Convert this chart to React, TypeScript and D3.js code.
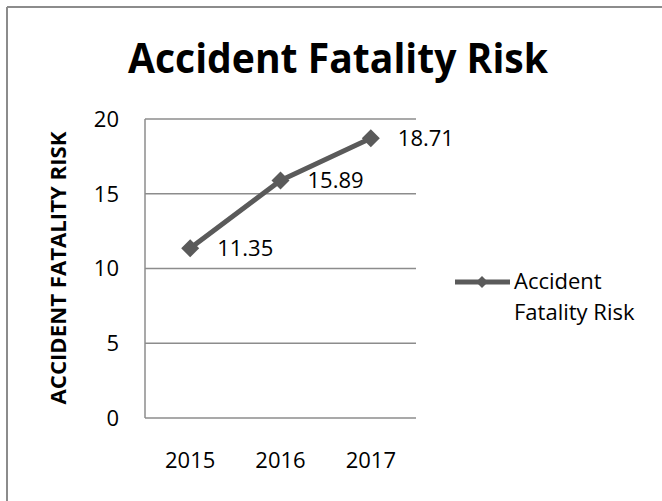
import React from 'react'
import * as d3 from 'd3'

const years = ['2015', '2016', '2017']
const risk = [11.35, 15.89, 18.71]
const yTicks = [0, 5, 10, 15, 20]
const seriesName = 'Accident Fatality Risk'

const W = 662
const H = 501
const FONT = "'Open Sans', 'Liberation Sans', sans-serif"
const LINE = '#5a5a5a'
const GRID = '#8c8c8c'

const App = () => {
  const x = d3.scaleBand().domain(years).range([145, 416])
  const y = d3.scaleLinear().domain([0, 20]).range([418, 119])
  const cx = (d: string) => (x(d) as number) + x.bandwidth() / 2

  const line = d3.line<number>()
    .x((d, i) => cx(years[i]))
    .y(d => y(d))

  // excel style diamond = square turned 45deg
  const bigDiamond = d3.symbol(d3.symbolSquare, 162)() as string
  const smallDiamond = d3.symbol(d3.symbolSquare, 72)() as string

  return (
    <svg width={W} height={H} style={{ position: 'absolute', left: 0, top: 0, background: '#fff' }} fontFamily={FONT}>
      {/* chart frame (cut at right and bottom) */}
      <line x1={7} y1={7} x2={W} y2={7} stroke={GRID} strokeWidth={2} />
      <line x1={7} y1={7} x2={7} y2={H} stroke={GRID} strokeWidth={2} />

      <text x={338} y={73} textAnchor="middle" fontSize={41} fontWeight="bold" textLength={420} lengthAdjust="spacingAndGlyphs">
        {seriesName}
      </text>

      {/* grid */}
      {yTicks.map(t => (
        <g key={t}>
          <line x1={145} x2={416} y1={y(t)} y2={y(t)} stroke={GRID} strokeWidth={1.5} />
          <text x={119} y={y(t)} dy="0.36em" textAnchor="end" fontSize={22} fill="#000">{t}</text>
        </g>
      ))}
      <line x1={145} x2={145} y1={y(20)} y2={y(0)} stroke={GRID} strokeWidth={1.5} />

      {years.map(d => (
        <text key={d} x={cx(d)} y={468} textAnchor="middle" fontSize={22}>{d}</text>
      ))}

      <text transform="translate(66,268) rotate(-90)" textAnchor="middle" fontSize={21.5} fontWeight="bold" textLength={273} lengthAdjust="spacingAndGlyphs">
        ACCIDENT FATALITY RISK
      </text>

      {/* series */}
      <path d={line(risk) as string} fill="none" stroke={LINE} strokeWidth={5} strokeLinejoin="round" />
      {risk.map((v, i) => (
        <g key={i}>
          <path d={bigDiamond} fill={LINE} transform={`translate(${cx(years[i])},${y(v)}) rotate(45)`} />
          <text x={cx(years[i]) + 27} y={y(v)} dy="0.36em" fontSize={22}>{v.toFixed(2)}</text>
        </g>
      ))}

      {/* legend */}
      <line x1={455} x2={510} y1={282} y2={282} stroke={LINE} strokeWidth={5} />
      <path d={smallDiamond} fill={LINE} transform="translate(482,282) rotate(45)" />
      <text x={514} y={289} fontSize={22}>Accident</text>
      <text x={514} y={320} fontSize={22}>Fatality Risk</text>
    </svg>
  )
}

export default App
